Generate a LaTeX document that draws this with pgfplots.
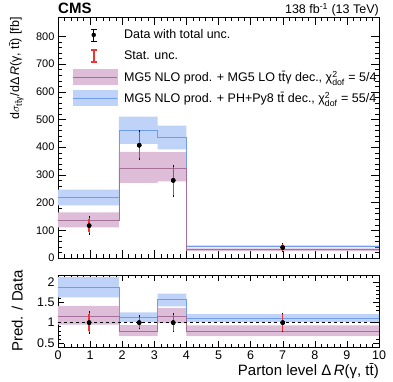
\documentclass[border=0pt]{standalone}
\usepackage{fontspec}
\setmainfont{Liberation Sans}
\usepackage{amsmath}
\usepackage{pgfplots}
\pgfplotsset{compat=1.18}

\definecolor{blueband}{HTML}{BED3F7}
\definecolor{blueline}{HTML}{6E9DEE}
\definecolor{purpband}{HTML}{DDBDD8}
\definecolor{purpline}{HTML}{A4709A}
\definecolor{errred}{rgb}{0.95,0.2,0.2}

\newcommand{\ttb}{t\=t}
\newcommand{\fs}[1]{\fontsize{#1}{#1}\selectfont}

\pgfplotsset{
  cmsaxis/.style={
    scale only axis, width=321pt,
    xmin=0, xmax=10, xtick={0,...,10}, minor x tick num=4,
    tick align=inside, major tick length=8pt, minor tick length=4pt,
    tick style={black, thin}, axis line style={black, thin},
    /pgf/number format/assume math mode=true,
  },
  totbar/.style={only marks, mark=*, mark size=2pt, black,
    error bars/.cd, y dir=both, y explicit,
    error bar style={black, line width=1pt},
    error mark options={black, mark size=2.8pt, line width=0.8pt}},
  statbar/.style={only marks, mark=*, mark size=2pt, black,
    error bars/.cd, y dir=both, y explicit,
    error bar style={color=errred, line width=1.4pt},
    error mark options={color=errred, mark size=1.6pt, line width=0.9pt}},
}

\begin{document}
\begin{tikzpicture}
\path[use as bounding box] (-58pt,-123pt) rectangle (335pt,258pt);

\begin{axis}[cmsaxis, name=main, at={(0,0)}, anchor=south west,
  height=241pt, ymin=0, ymax=870,
  ytick={0,100,...,800}, minor y tick num=4, xticklabels={},
  yticklabel style={font=\fs{11}},
  legend style={at={(axis description cs:0.044,0.968)}, anchor=north west,
    draw=none, fill=none, font=\fs{12.5},
    row sep=1pt, column sep=5pt, cells={anchor=west}, inner sep=0pt},
]
% bands
\addplot[forget plot, fill=blueband, draw=none] coordinates {
  (0,247) (1.9,247) (1.9,510) (3.1,510) (3.1,478) (4,478) (4,46) (10,46)
  (10,38) (4,38) (4,392) (3.1,392) (3.1,412) (1.9,412) (1.9,190) (0,190)};
\addplot[forget plot, fill=purpband, draw=none] coordinates {
  (0,165) (1.9,165) (1.9,383) (3.1,383) (3.1,382) (4,382) (4,35) (10,35)
  (10,25) (4,25) (4,277) (3.1,277) (3.1,271) (1.9,271) (1.9,111) (0,111)};
% central predictions
\addplot[forget plot, blueline, const plot, line width=0.8pt] coordinates {
  (0,217) (1.9,461) (3.1,436) (4,42) (10,42)};
\addplot[forget plot, purpline, const plot, line width=0.8pt] coordinates {
  (0,136) (1.9,322) (3.1,323) (4,30) (10,30)};
% data: total and statistical uncertainties
\addplot[forget plot, totbar] coordinates {
  (0.97,117) +=(0,25) -=(0,24)
  (2.53,407) +=(0,44) -=(0,42)
  (3.59,280) +=(0,45) -=(0,49)
  (7.0,38)   +=(0,6)  -=(0,6.5)};
\addplot[forget plot, statbar] coordinates {
  (0.97,117) +=(0,23) -=(0,22)
  (2.53,407) +=(0,42) -=(0,40)
  (3.59,280) +=(0,43) -=(0,46)
  (7.0,38)   +=(0,5.5)  -=(0,6)};
\addplot[forget plot, only marks, mark=*, mark size=2pt, black] coordinates {
  (0.97,117) (2.53,407) (3.59,280) (7.0,38)};

% legend
\addlegendimage{black, legend image code/.code={
  \path[draw=none, fill=none] (0,-10pt) rectangle (44pt,10pt);
  \draw[black, line width=1pt] (21pt,-6pt) -- (21pt,6pt);
  \draw[black, line width=0.8pt] (18.2pt,-6pt) -- (23.8pt,-6pt);
  \draw[black, line width=0.8pt] (18.2pt,6pt) -- (23.8pt,6pt);
  \fill[black] (21pt,0) circle (2pt);}}
\addlegendentry{Data with total unc.}
\addlegendimage{legend image code/.code={
  \path[draw=none, fill=none] (0,-10pt) rectangle (44pt,10pt);
  \fill[errred] (20.3pt,-6.4pt) rectangle (21.7pt,6.4pt);
  \fill[errred] (18.2pt,-6.4pt) rectangle (23.8pt,-5.5pt);
  \fill[errred] (18.2pt,5.5pt) rectangle (23.8pt,6.4pt);}}
\addlegendentry{Stat. unc.}
\addlegendimage{legend image code/.code={
  \path[draw=none, fill=none] (0,-10pt) rectangle (44pt,10pt);
  \fill[purpband] (0,-7.5pt) rectangle (44pt,7.5pt);
  \draw[purpline, line width=0.8pt] (0,0) -- (44pt,0);}}
\addlegendentry{MG5 NLO prod. + MG5 LO \ttb γ dec., χ$^{\text{2}}_{\text{dof}}$ = 5/4}
\addlegendimage{legend image code/.code={
  \path[draw=none, fill=none] (0,-10pt) rectangle (44pt,10pt);
  \fill[blueband] (0,-7.5pt) rectangle (44pt,7.5pt);
  \draw[blueline, line width=0.8pt] (0,0) -- (44pt,0);}}
\addlegendentry{MG5 NLO prod. + PH+Py8 \ttb\ dec., χ$^{\text{2}}_{\text{dof}}$ = 55/4}
\end{axis}

\node[anchor=base west, inner sep=0pt, font=\bfseries\fs{15}]
  at ([yshift=3.5pt]main.north west) {CMS};
\node[anchor=base east, inner sep=0pt, font=\fs{12.5}]
  at ([yshift=3.5pt]main.north east) {138 fb\textsuperscript{-1} (13 TeV)};
\node[rotate=90, anchor=south east, inner sep=0pt, font=\fs{12.5}]
  at ([xshift=-34pt]main.north west)
  {d$\sigma_{\text{\ttb}\text{γ}}$/dΔ\,\textit{R}(γ, \ttb) [fb]};

\begin{axis}[cmsaxis, name=ratio, at={(main.south west)}, anchor=north west, yshift=-17pt,
  height=72pt, ymin=0.4, ymax=2.17,
  ytick={0.5,1,1.5,2}, yticklabels={0.5,1,1.5,2}, minor y tick num=4,
  major tick length=6pt, minor tick length=3pt,
  ticklabel style={font=\fs{12.5}},
]
\addplot[fill=blueband, draw=none] coordinates {
  (0,2.12) (1.9,2.12) (1.9,1.25) (3.1,1.25) (3.1,1.71) (4,1.71) (4,1.21) (10,1.21)
  (10,1.02) (4,1.02) (4,1.40) (3.1,1.40) (3.1,1.01) (1.9,1.01) (1.9,1.62) (0,1.62)};
\addplot[fill=purpband, draw=none] coordinates {
  (0,1.41) (1.9,1.41) (1.9,0.94) (3.1,0.94) (3.1,1.36) (4,1.36) (4,0.93) (10,0.93)
  (10,0.67) (4,0.67) (4,0.99) (3.1,0.99) (3.1,0.67) (1.9,0.67) (1.9,0.95) (0,0.95)};
\addplot[blueline, const plot, line width=0.8pt] coordinates {
  (0,1.86) (1.9,1.13) (3.1,1.56) (4,1.10) (10,1.10)};
\addplot[purpline, const plot, line width=0.8pt] coordinates {
  (0,1.16) (1.9,0.79) (3.1,1.15) (4,0.79) (10,0.79)};
\addplot[black, dashed, line width=0.6pt] coordinates {(0,1) (10,1)};
\addplot[totbar] coordinates {
  (0.97,1) +=(0,0.21) -=(0,0.21)
  (2.53,1) +=(0,0.11) -=(0,0.10)
  (3.59,1) +=(0,0.16) -=(0,0.17)
  (7.0,1)  +=(0,0.17) -=(0,0.17)};
\addplot[statbar] coordinates {
  (0.97,1) +=(0,0.20) -=(0,0.20)
  (2.53,1) +=(0,0.10) -=(0,0.09)
  (3.59,1) +=(0,0.15) -=(0,0.16)
  (7.0,1)  +=(0,0.16) -=(0,0.16)};
\addplot[only marks, mark=*, mark size=2pt, black] coordinates {
  (0.97,1) (2.53,1) (3.59,1) (7.0,1)};
\end{axis}

\node[rotate=90, anchor=south, inner sep=0pt, font=\fs{15}]
  at ([xshift=-35pt]ratio.west) {Pred. / Data};
\node[anchor=north east, inner sep=0pt, font=\fs{15}]
  at ([yshift=-16.5pt]ratio.south east) {Parton level Δ\,\textit{R}(γ, \ttb)};
\end{tikzpicture}
\end{document}
